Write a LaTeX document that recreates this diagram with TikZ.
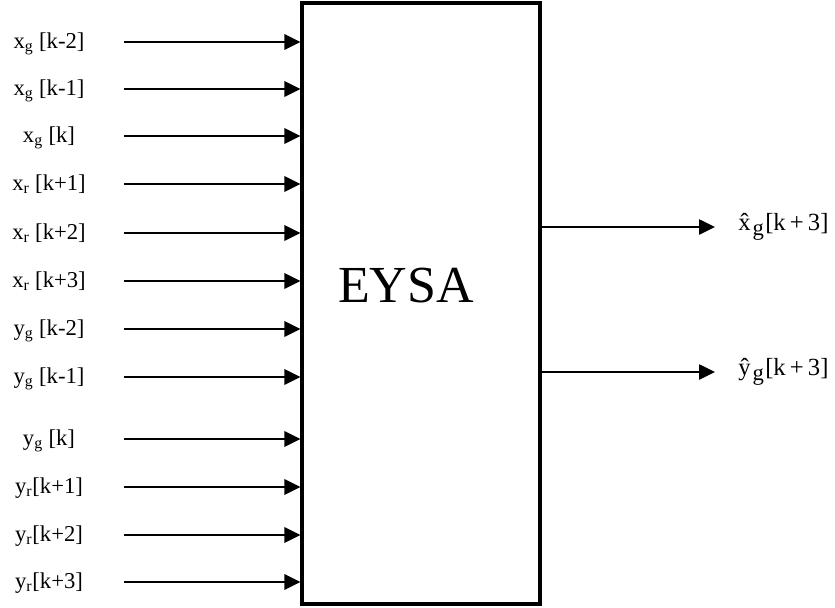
\documentclass[tikz,border=0pt]{standalone}
\usepackage{fontspec}
\setmainfont{Liberation Serif}
\usetikzlibrary{arrows.meta, positioning}

\begin{document}
\begin{tikzpicture}[
    x=0.75pt, y=-0.75pt,
    block/.style={draw, line width=2.3pt, minimum width=178.5pt, minimum height=450.75pt, inner sep=0pt},
    sig/.style={font=\fontsize{17}{19}\selectfont, inner sep=0pt, anchor=base},
    outsig/.style={font=\fontsize{18.5}{21}\selectfont, inner sep=0pt, anchor=west},
    inarrow/.style={line width=1.6pt, -{Triangle[length=12pt, width=11.5pt]}},
    outarrow/.style={line width=1.1pt, -{Triangle[length=12pt, width=11.5pt]}}
]
    \useasboundingbox (0,0) rectangle (835,607);

    \node [block] (eysa) at (421,303.5) {};
    \node [font=\fontsize{39}{44}\selectfont, inner sep=0pt] (title) at (406,286) {EYSA};

    % input signals
    \foreach \yy/\txt [count=\i] in {
        42/{x\textsubscript{g} [k-2]},
        89/{x\textsubscript{g} [k-1]},
        136/{x\textsubscript{g} [k]},
        184/{x\textsubscript{r} [k+1]},
        233/{x\textsubscript{r} [k+2]},
        281/{x\textsubscript{r} [k+3]},
        329/{y\textsubscript{g} [k-2]},
        377/{y\textsubscript{g} [k-1]},
        439/{y\textsubscript{g} [k]},
        487/{y\textsubscript{r}[k+1]},
        535/{y\textsubscript{r}[k+2]},
        582/{y\textsubscript{r}[k+3]}} {
        \node [sig] (in\i) at (49,\yy+6) {\txt};
        \coordinate (src\i) at (124,\yy);
        \draw [inarrow] (src\i) -- (src\i -| eysa.west);
    }

    % estimated outputs
    \coordinate (xout) at (715,227);
    \coordinate (yout) at (715,372);
    \draw [outarrow] (xout -| eysa.east) -- (xout);
    \draw [outarrow] (yout -| eysa.east) -- (yout);
    \node [outsig] (xhat) at (738,227) {\^{x}\kern1.5pt\raisebox{-0.5ex}{\fontsize{17}{17}\selectfont g}\kern1pt[k\,+\,3]};
    \node [outsig] (yhat) at (738,372) {\^{y}\kern1.5pt\raisebox{-0.5ex}{\fontsize{17}{17}\selectfont g}\kern1pt[k\,+\,3]};
\end{tikzpicture}
\end{document}
